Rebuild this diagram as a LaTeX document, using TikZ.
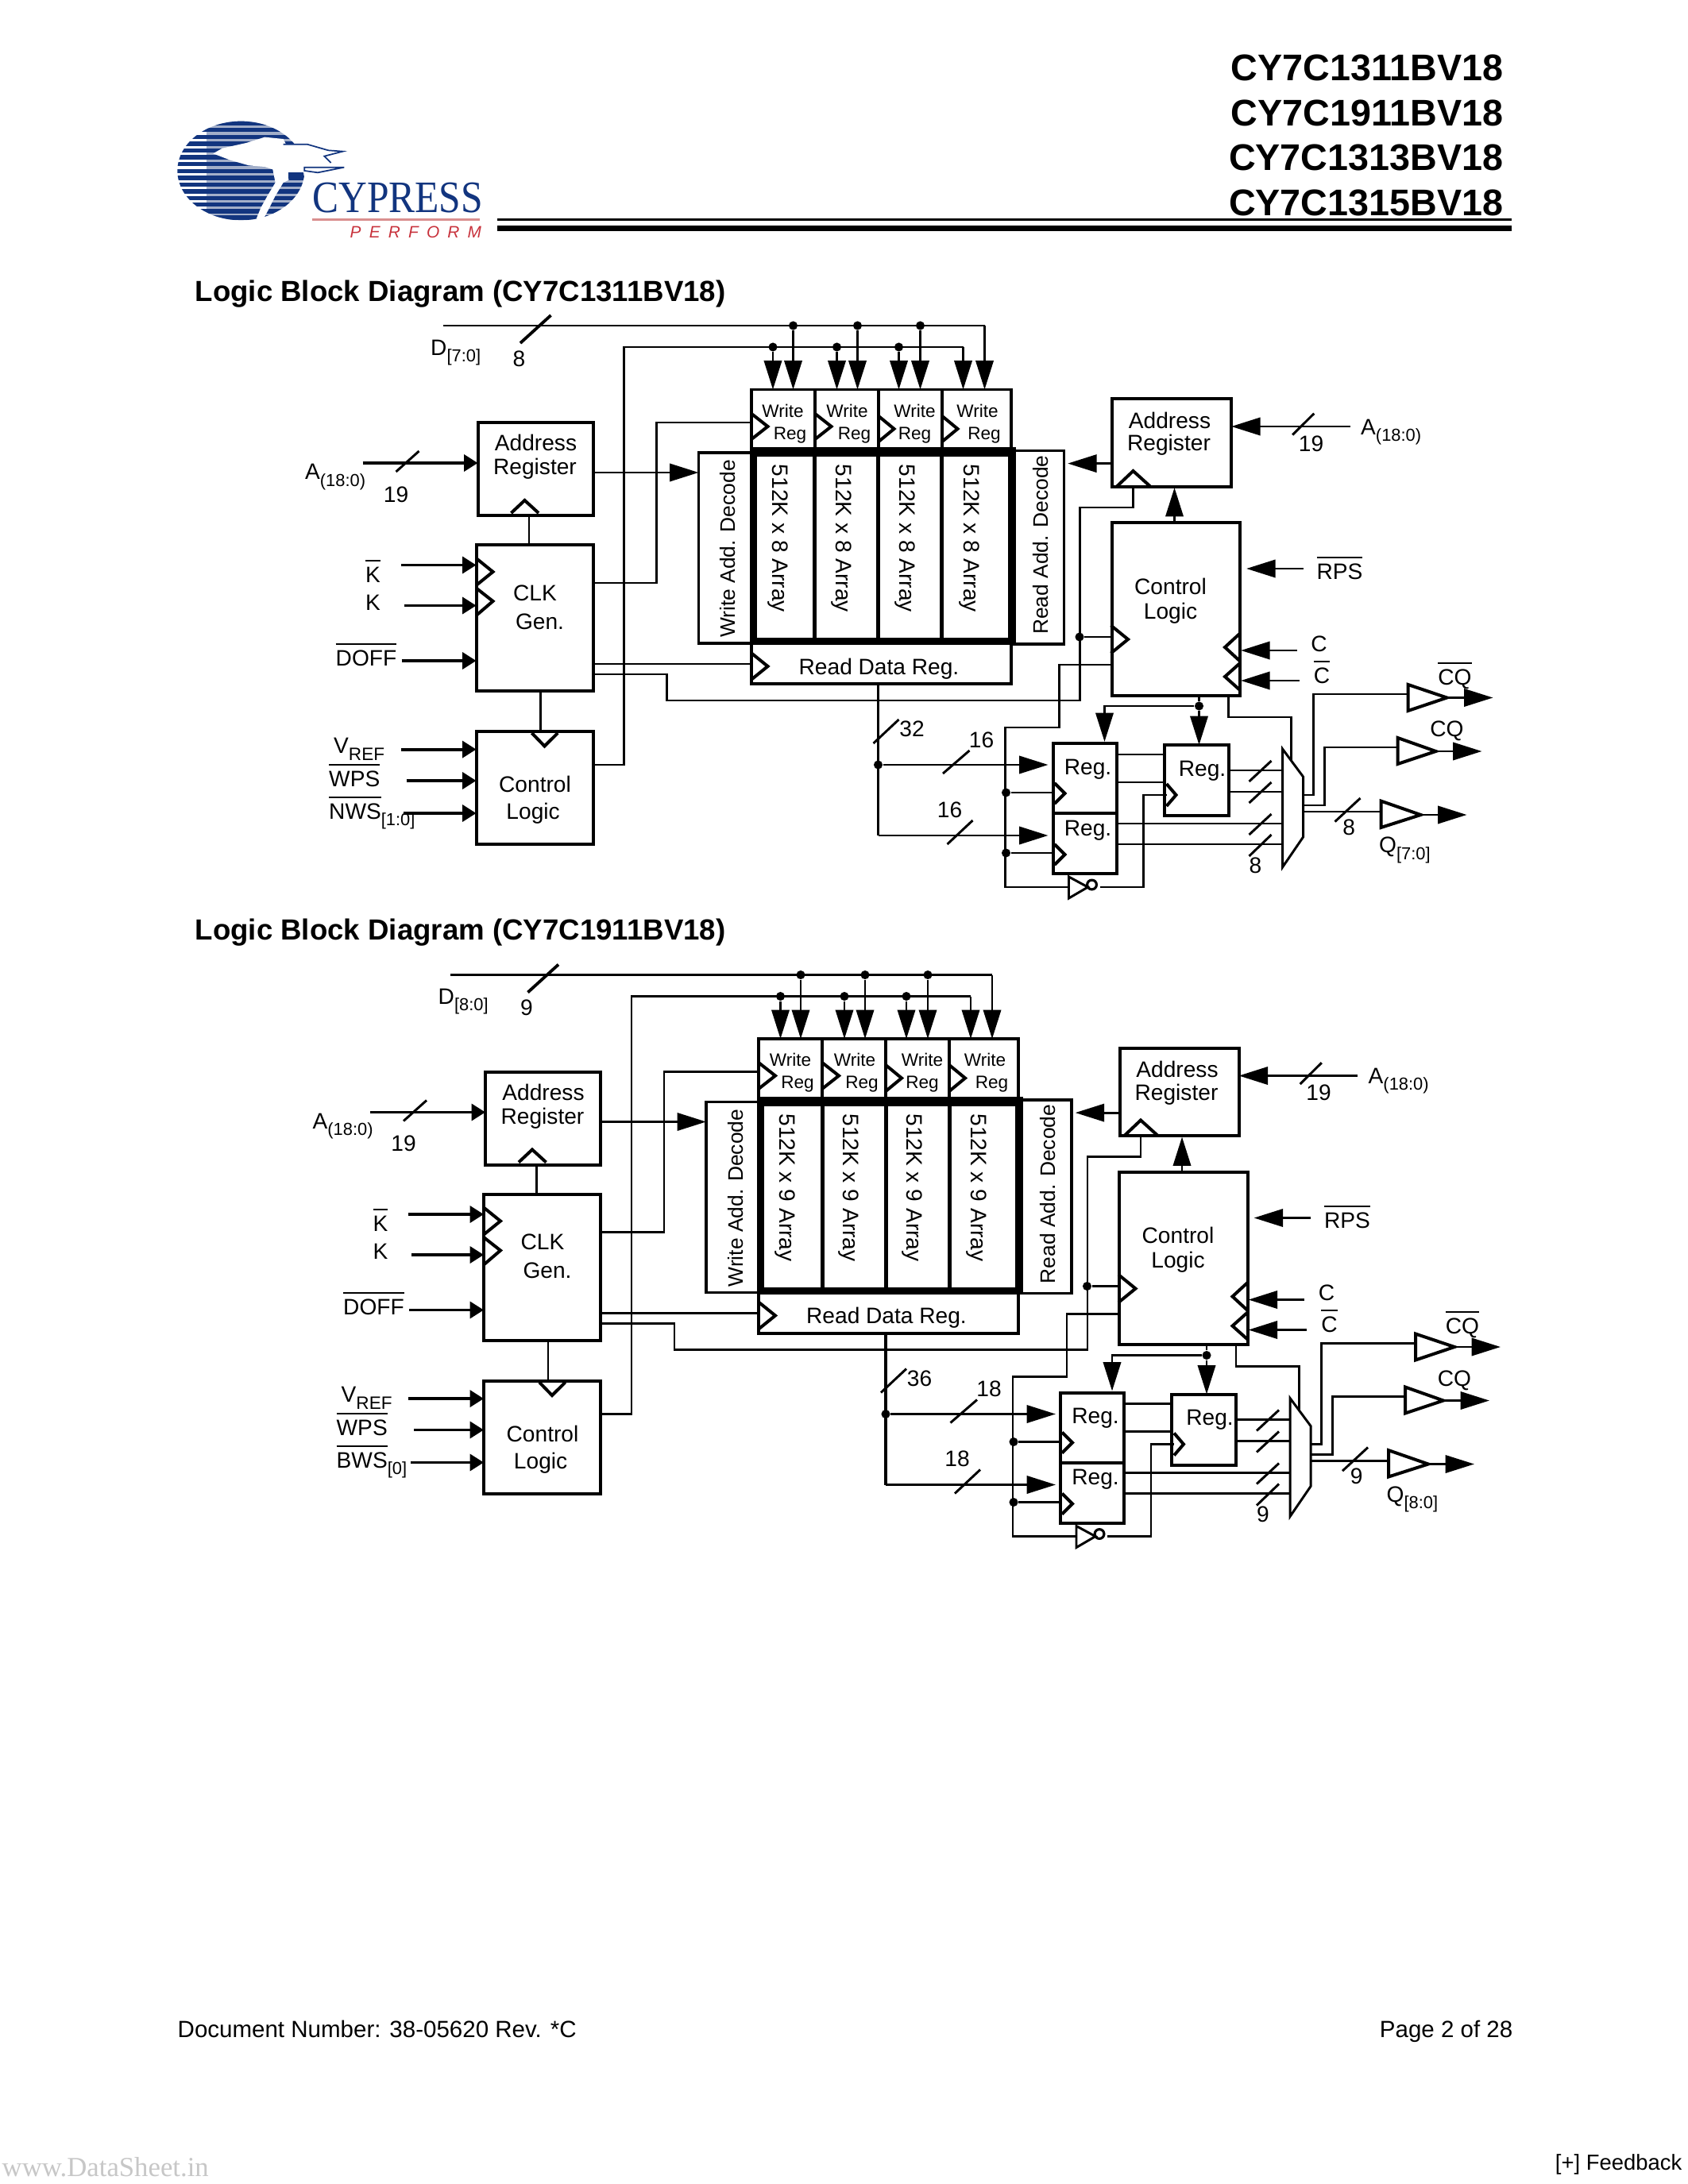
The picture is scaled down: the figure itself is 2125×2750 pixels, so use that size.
\documentclass[tikz,border=0pt]{standalone}
\usepackage{fontspec}
\setmainfont{Liberation Sans}
\newfontfamily\serifface{Liberation Serif}
\newfontfamily\perfface[LetterSpace=49]{Liberation Sans}
\usetikzlibrary{arrows.meta}
\definecolor{navy}{HTML}{12357F}
\definecolor{logogray}{HTML}{A3AFC9}
\definecolor{logored}{HTML}{C8323C}
\definecolor{logopink}{HTML}{D98F8F}
\newcommand\barred[1]{\setbox0\hbox{#1}\rlap{\rule[7.6bp]{\wd0}{0.6bp}}\box0}
\newcommand\sbs[1]{\raisebox{-2.4bp}{\fontsize{6.3bp}{6.3bp}\selectfont #1}}
\tikzset{
  wire/.style={line width=0.85bp,line join=miter},
  hwire/.style={line width=1.1bp,line join=miter},
  tipB/.style={-{Triangle[length=10.5bp,width=6.4bp]}},
  tipS/.style={-{Triangle[length=5bp,width=6bp]}},
  bx/.style={draw,line width=1.15bp,inner sep=0pt,outer sep=0pt},
  clk/.style={line width=1.15bp,line join=miter},
  jdot/.style={circle,fill=black,inner sep=0pt,minimum size=3.2bp},
  txt/.style={inner sep=0pt,font=\fontsize{8.1bp}{9bp}\selectfont,text height=5.8bp,text depth=0pt},
  txd/.style={inner sep=0pt,font=\fontsize{7.6bp}{9bp}\selectfont,text height=5.45bp,text depth=0pt},
  txw/.style={txt,anchor=west},
  txs/.style={inner sep=0pt,font=\fontsize{6.5bp}{7bp}\selectfont,text height=4.65bp,text depth=0pt},
}
\newcommand\boxn[6][]{\node[bx,#1,minimum width={(#4-#2)*0.288bp},minimum height={(#5-#3)*0.288bp}] (#6) at ({(#2+#4)/2},{(#3+#5)/2}) {};}
\newcommand\slashmark[5][wire]{\draw[#1] (#2,#3) -- (#4,#5);}
% clock triangle pointing right: x y(mid) w h/2
\newcommand\ckr[4]{\draw[clk] (#1,#2-#4) -- (#1+#3,#2) -- (#1,#2+#4);}
\newcommand\ckl[4]{\draw[clk] (#1,#2-#4) -- (#1-#3,#2) -- (#1,#2+#4);}
\newcommand\logicblock[9]{%
\begin{scope}[shift={(#8,#9)},name prefix=#1-]
% boxes
\boxn{600}{532}{745}{649}{addrL}
\boxn{598}{686}{745}{870}{clkgen}
\boxn{598}{921}{745}{1063}{ctlL}
\boxn{944}{490.5}{1024}{569}{w1}
\boxn{1024}{490.5}{1104}{569}{w2}
\boxn{1104}{490.5}{1184}{569}{w3}
\boxn{1184}{490.5}{1271}{569}{w4}
\boxn[line width=1bp]{878}{570}{944}{810}{wdec}
\boxn[line width=1bp]{1275}{567.5}{1338}{811}{rdec}
\boxn{944}{808}{1271}{861}{rdreg}
\boxn{1398.5}{502}{1548.6}{612.6}{addrR}
\boxn{1398}{658}{1559.5}{875.5}{ctlR}
\boxn{1324}{936}{1404}{1024}{reg1}
\boxn{1324}{1024}{1404}{1100}{reg2}
\boxn{1464}{938}{1545}{1027}{reg3}
% thick array frame
\fill (944,563) rectangle (951,812);
\fill (944,563) rectangle (1277,575);
\fill (944,803) rectangle (1277,812);
\fill (1267,563) rectangle (1277,812);
\fill (1021.5,563) rectangle (1026.5,812);
\fill (1101.5,563) rectangle (1106.5,812);
\fill (1181.5,563) rectangle (1186.5,812);
% coordinates
\coordinate (dS) at (556,410); \coordinate (dE) at (1238,410);
\node[jdot] (du1) at (997,410) {}; \node[jdot] (du2) at (1078,410) {}; \node[jdot] (du3) at (1157,410) {};
\node[jdot] (dl1) at (971.5,437) {}; \node[jdot] (dl2) at (1052,437) {}; \node[jdot] (dl3) at (1130,437) {};
\coordinate (dl4) at (1211,437);
\draw[wire] (dS) -- (dE);
\draw[wire,tipB] (dE) -- (dE |- w4.north);
\foreach \n/\b in {du1/w1,du2/w2,du3/w3,dl1/w1,dl2/w2,dl3/w3,dl4/w4}{\draw[wire,tipB] (\n) -- (\n |- \b.north);}
\draw[wire] (ctlL.east |- 0,963) -| (784,437) -- (dl4);
\slashmark[hwire]{653.5}{432}{692}{397}
% clock of write reg
\draw[wire] (clkgen.east |- 0,734) -| (825,532) -- (w1.west |- 0,532);
\draw[wire] (clkgen.east |- 0,836) -- (rdreg.west |- 0,836);
\node[jdot] (jr) at (1357.5,802) {};
\draw[wire] (clkgen.east |- 0,849) -| (838,882) -- (1358,882) -- (1358,639) -- (1425,639) -- (1425,612);
\draw[wire] (jr) -- (ctlR.west |- jr);
\draw[wire,tipB] (addrL.east |- 0,595) -- (wdec.west |- 0,595);
% A left
\coordinate (aLs) at (455,583);
\draw[hwire,tipS] (aLs) -- (addrL.west |- aLs);
\slashmark{497}{594}{526}{568}
\draw[wire] (664.5,649) -- (664.5,686);
\draw[wire] (679,870) -- (679,921);
% left inputs
\foreach \nn/\xx/\yy/\bb in {inKb/503/711.5/clkgen,inK/507/762.5/clkgen,inDoff/504/832/clkgen,inV/503/943.6/ctlL,inW/510/983/ctlL,inN/506/1024/ctlL}{
  \coordinate (\nn) at (\xx,\yy);
  \draw[hwire,tipS] (\nn) -- (\bb.west |- \nn);}
% clocks left
\draw[clk] (642,646) -- (659,630) -- (676.5,646);
\draw[clk] (598,703) -- (619,720) -- (598,737);
\draw[clk] (598,740.5) -- (619,757) -- (598,775);
\draw[clk] (668,923) -- (684,939.5) -- (700.6,923);
% write reg clocks
\ckr{944}{537}{21}{16.5}
\ckr{1024}{537}{21}{16.5}
\ckr{1104}{540}{20}{16.5}
\ckr{1184}{540}{20}{16.5}
\ckr{944}{839}{21}{17}
% right side top
\draw[clk] (1405,612) -- (1425,593) -- (1446,612);
\ckr{1397}{805}{21.5}{17.5}
\ckl{1559.5}{815}{19}{17.5}
\ckl{1559.5}{852}{19}{17}
\coordinate (aRs) at (1698,537);
\draw[wire,tipB] (aRs) -- (addrR.east |- aRs);
\slashmark{1625.6}{547.6}{1652.7}{520.7}
\coordinate (rdecin) at (1342.7,583.6);
\draw[wire,tipB] (addrR.west |- rdecin) -- (rdecin);
\draw[wire,tipB] (1477,658) -- (1477,614);
\coordinate (rpsS) at (1639,716); \coordinate (rpsE) at (1567.6,716);
\draw[wire,tipB] (rpsS) -- (rpsE);
\coordinate (cS) at (1631,819); \coordinate (cE) at (1560.6,819);
\draw[wire,tipB] (cS) -- (cE);
\coordinate (cbS) at (1634,857); \coordinate (cbE) at (1560.6,857);
\draw[wire,tipB] (cbS) -- (cbE);
% clock net to output regs
\coordinate (inv) at (1344,1117);
\draw[wire] (ctlR.west |- 0,837) -| (1332,916) -- (1264,916) |- (inv);
\draw[wire] (1344,1104) -- (1368,1117) -- (1344,1131) -- cycle;
\node[draw,circle,line width=0.9bp,inner sep=0pt,minimum size=3.4bp] (bub) at (1373,1114) {};
\coordinate (invout) at (1383,1117);
\draw[wire] (invout) -- (1438,1117) -- (1438,1001) -- (1467,1001);
\node[jdot] (j1) at (1265,998) {}; \node[jdot] (j2) at (1265,1074) {};
\draw[wire] (j1) -- (reg1.west |- j1);
\draw[wire] (j2) -- (reg2.west |- j2);
\ckr{1326}{999}{13}{13}
\ckr{1326}{1076}{13}{13}
\ckr{1467}{1001}{12}{14}
% read data bus
\draw[hwire] (1104,861) -- (1104,1052);
\node[jdot] (jb) at (1104,963) {};
\draw[wire,tipB] (jb) -- (1318,963);
\draw[wire,tipB] (1104,1052) -- (1318,1052);
\slashmark{1098}{936}{1130}{906}
\slashmark{1185.5}{974}{1219}{945}
\slashmark{1191}{1063}{1223}{1033}
% control to regs
\node[jdot] (jc) at (1508,889) {};
\draw[wire] (jc |- ctlR.south) -- (jc);
\draw[wire,tipB] (jc) -- (jc |- reg3.north);
\draw[wire,tipB] (jc) -- (1389,889) -- (1389,934);
\draw[wire] (1545,875.5) -- (1545,903) -- (1624,903) -- (1624,958);
% reg links
\draw[wire] (reg1.east |- 0,950) -- (reg3.west |- 0,950);
\draw[wire] (reg1.east |- 0,985) -- (reg3.west |- 0,985);
\coordinate (mx) at (1613,1000); \coordinate (mr) at (1639,1000);
\draw[wire] (reg3.east |- 0,970) -- (mx |- 0,970);
\draw[wire] (reg3.east |- 0,997) -- (mx |- 0,997);
\draw[wire] (reg2.east |- 0,1037) -- (mx |- 0,1037);
\draw[wire] (reg2.east |- 0,1063) -- (mx |- 0,1063);
\slashmark{1571}{984}{1599}{958}
\slashmark{1571}{1011}{1599}{985}
\slashmark{1571}{1051}{1599}{1025}
\slashmark{1571}{1078}{1599}{1051}
\draw[wire] (1613,943) -- (1639,978) -- (1639,1054) -- (1613,1092) -- cycle;
% outputs
\draw[wire] (mr |- 0,1001) -- (1652,1001) -- (1652,874) -- (1771,874);
\draw[wire] (mr |- 0,1014) -- (1666,1014) -- (1666,941) -- (1757,941);
\draw[wire] (mr |- 0,1022) -- (1737,1022);
\slashmark{1679}{1034.6}{1711}{1005}
\draw[clk] (1771,862) -- (1820,878.5) -- (1771,895) -- cycle;
\draw[clk] (1758,929) -- (1806,946) -- (1758,962) -- cycle;
\draw[clk] (1737,1008.6) -- (1787,1026) -- (1737,1042) -- cycle;
\draw[wire,tipB] (1820,878.5) -- (1878,878.5);
\draw[wire,tipB] (1806,946) -- (1864,946);
\draw[wire,tipB] (1787,1026) -- (1845,1026);
% texts
\node[txw] (tD) at (540,437) {D\sbs{#2}};
\node[txt] (tDn) at (652,451) {#3};
\node[txw] (tA) at (382,593.6) {A\sbs{(18:0)}};
\node[txt] (t19) at (497,622) {19};
\node[txt] (tAd) at (673,557.5) {Address};
\node[txt] (tRe) at (672,587.5) {Register};
\node[txt] (tKb) at (468,723) {\barred{K}};
\node[txt] (tK) at (468,758) {K};
\node[txt] (tCK) at (672,746) {CLK};
\node[txt] (tGe) at (678,782) {Gen.};
\node[txt] (tDo) at (459.5,828) {\barred{DOFF}};
\node[txw] (tV) at (418,938) {V\raisebox{-2.6bp}{\fontsize{6.5bp}{6.5bp}\selectfont REF}};
\node[txw] (tW) at (412,980) {\barred{WPS}};
\node[txw] (tN) at (412,1021) {#6};
\node[txt] (tCo) at (672,987.5) {Control};
\node[txt] (tLo) at (669.6,1021.5) {Logic};
\node[txs] (tw1) at (984,517) {Write}; \node[txs] (tr1) at (993,545) {Reg};
\node[txs] (tw2) at (1065,517) {Write}; \node[txs] (tr2) at (1074,545) {Reg};
\node[txs] (tw3) at (1150,517) {Write}; \node[txs] (tr3) at (1150,545) {Reg};
\node[txs] (tw4) at (1229,517) {Write}; \node[txs] (tr4) at (1237.5,545) {Reg};
\node[txd,rotate=90] (tWd) at (915,691) {Write Add. Decode};
\node[txd,rotate=90] (tRd) at (1308.5,686) {Read Add. Decode};
\node[txt,rotate=-90] (ta1) at (981,678) {512K x #3 Array};
\node[txt,rotate=-90] (ta2) at (1061,678) {512K x #3 Array};
\node[txt,rotate=-90] (ta3) at (1141,678) {512K x #3 Array};
\node[txt,rotate=-90] (ta4) at (1222,678) {512K x #3 Array};
\node[txt] (tRdr) at (1105,839) {Read Data Reg.};
\node[txt] (tAd2) at (1471,529) {Address};
\node[txt] (tRe2) at (1470,557.5) {Register};
\node[txt] (tCo2) at (1472,738) {Control};
\node[txt] (tLo2) at (1472,769) {Logic};
\node[txt] (t192) at (1649,558) {19};
\node[txw] (tA2) at (1711,537) {A\sbs{(18:0)}};
\node[txt] (tRp) at (1685,719) {\barred{RPS}};
\node[txt] (tC) at (1659,810) {C};
\node[txt] (tCb) at (1662.5,850) {\barred{C}};
\node[txt] (tCQb) at (1830,852) {\barred{CQ}};
\node[txt] (tCQ) at (1820,917.5) {CQ};
\node[txw] (tQ) at (1734,1063.6) {Q\sbs{#7}};
\node[txt] (t32) at (1146.5,917.5) {#4};
\node[txt] (t16) at (1234,931) {#5};
\node[txt] (t162) at (1194,1019) {#5};
\node[txt] (tR1) at (1368,965) {Reg.};
\node[txt] (tR2) at (1368,1042) {Reg.};
\node[txt] (tR3) at (1512,967) {Reg.};
\node[txt] (t8a) at (1579,1089) {#3};
\node[txt] (t8b) at (1696.6,1041) {#3};
\end{scope}}
\begin{document}
\begin{tikzpicture}[x=0.288bp,y=-0.288bp]
\fill[white] (0,0) rectangle (2125,2750);
\useasboundingbox (0,0) rectangle (2125,2750);
% logo
\begin{scope}[shift={(200,130)},x=0.096bp,y=-0.096bp]
  \begin{scope}
    \clip (310,255) ellipse [x radius=240,y radius=187];
    \fill[logogray] (180,60) rectangle (560,450);
    \foreach \yy in {75,100,128,153,178,204,230,256,282,308,333,358,383,408,432}{
      \fill[navy] (60,{\yy-8}) rectangle (560,{\yy+8});}
  \end{scope}
  \fill[white] (205,190) -- (240,170) -- (330,150) -- (400,128) -- (470,135) -- (480,155) -- (560,150) -- (640,175) -- (695,182) -- (625,200) -- (650,225) -- (560,240) -- (550,265) -- (490,265) -- (490,290) -- (470,300) -- (440,350) -- (415,400) -- (395,437) -- (368,437) -- (385,395) -- (410,350) -- (440,300) -- (430,250) -- (400,240) -- (340,235) -- (270,215) -- cycle;
  \draw[navy,line width=0.5bp] (470,155) -- (560,155) -- (640,178) -- (695,182) -- (625,200) -- (650,225);
  \draw[navy,line width=0.5bp] (550,242) -- (700,242) -- (600,262) -- (550,255) -- cycle;
  \fill[navy] (490,260) rectangle (545,285);
  \node[inner sep=0pt,anchor=base west,text=navy] (cypress) at (578,412) {\serifface\fontsize{16.3bp}{16.3bp}\selectfont\scalebox{.875}[1]{CYPRESS}};
  \draw[logopink,line width=0.9bp] (580,439) -- (1212,439);
  \node[inner sep=0pt,anchor=base west,text=logored] (perform) at (720,510) {\perfface\itshape\fontsize{6bp}{6bp}\selectfont PERFORM};
\end{scope}
% header
\foreach \nn/\tt/\yy in {h1/CY7C1311BV18/85,h2/CY7C1911BV18/142,h3/CY7C1313BV18/198,h4/CY7C1315BV18/255}{
  \node[anchor=east,inner sep=0pt,font=\bfseries\fontsize{13.45bp}{14bp}\selectfont,text height=9.6bp,text depth=0pt] (\nn) at (1893,\yy) {\tt};}
\fill (626,275.2) rectangle (1903,278.5);
\fill (626,284.5) rectangle (1903,291.5);
% titles
\node[anchor=base west,inner sep=0pt,font=\bfseries\fontsize{10.55bp}{12bp}\selectfont] (title1) at (245,380) {Logic Block Diagram (CY7C1311BV18)};
\node[anchor=base west,inner sep=0pt,font=\bfseries\fontsize{10.55bp}{12bp}\selectfont] (title2) at (245,1183) {Logic Block Diagram (CY7C1911BV18)};
\logicblock{a}{[7:0]}{8}{32}{16}{\barred{NWS}\sbs{[1:0]}}{[7:0]}{1.5}{0}
\logicblock{b}{[8:0]}{9}{36}{18}{\barred{BWS}\sbs{[0]}}{[8:0]}{11}{817.5}
% footer
\node[anchor=base west,inner sep=0pt,font=\fontsize{8.5bp}{10bp}\selectfont] (doc) at (223,2565) {Document Number: 38-05620 Rev. *C};
\node[anchor=base east,inner sep=0pt,font=\fontsize{8.5bp}{10bp}\selectfont] (page) at (1905,2565) {Page 2 of 28};
\node[anchor=base east,inner sep=0pt,font=\fontsize{7.9bp}{9bp}\selectfont] (fb) at (2118,2732) {[+] Feedback};
\node[anchor=base west,inner sep=0pt,text=black!22,font=\serifface\fontsize{10bp}{11bp}\selectfont] (ws) at (2,2740) {www.DataSheet.in};
\end{tikzpicture}
\end{document}
